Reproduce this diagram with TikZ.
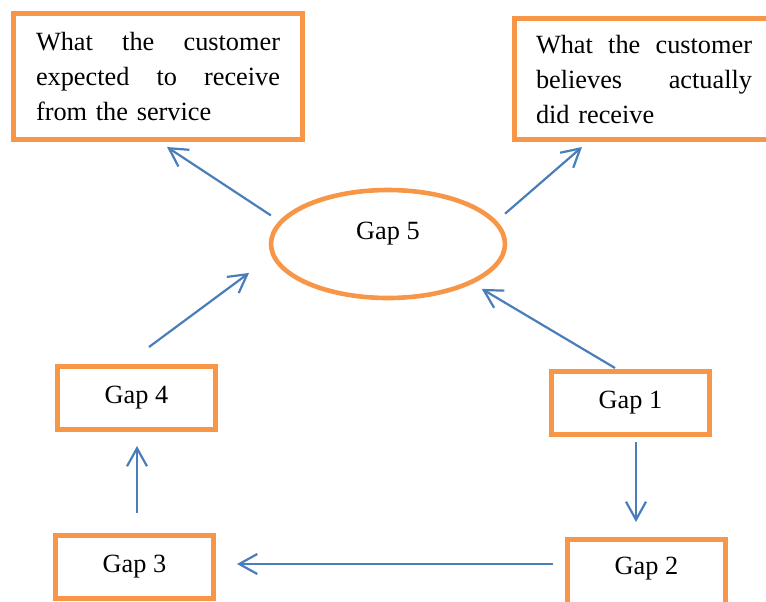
\documentclass[tikz,border=0pt]{standalone}
\usepackage{fontspec}
\setmainfont{Liberation Serif}
\usetikzlibrary{shapes.geometric,arrows.meta}
\definecolor{gaporange}{HTML}{F79646}
\definecolor{gapblue}{HTML}{4A7EBB}

\begin{document}
\begin{tikzpicture}
[x=0.5pt,y=-0.5pt,>={Straight Barb[length=9pt,width=10pt]},font=\fontsize{13.15pt}{17.5pt}\selectfont,
gapbox/.style = {draw=gaporange, line width=2.5pt, minimum width=79pt, minimum height=31.5pt, inner sep=0pt},
oval/.style = {draw=gaporange, ellipse, line width=2.3pt, minimum width=117pt, minimum height=54pt, inner sep=0pt, text depth=12.9pt},
textbox/.style = {draw=gaporange, line width=2.5pt, inner sep=0pt, align=left},
gaplink/.style = {->, draw=gapblue, line width=1.1pt},]
\path[use as bounding box,clip] (0,0) rectangle (766,601);
\node (E) at (158,76.5)[textbox,text width=122pt,minimum width=144.5pt,minimum height=63pt] {What\hfill the\hfill customer\\expected\hfill to\hfill receive\\from the service};
\node (R) at (644,79)[textbox,text width=108pt,minimum width=129.5pt,minimum height=60.5pt] {What\hfill the\hfill customer\\believes\hfill actually\\did receive};
\node (G5) at (388,244)[oval] {Gap 5};
\node (G4) at (136.5,397.5)[gapbox] {Gap 4};
\node (G1) at (630.5,403)[gapbox] {Gap 1};
\node (G3) at (134.5,566.75)[gapbox,minimum height=31.75pt] {Gap 3};
\node (G2) at (646.5,575)[gapbox,minimum height=36pt,text depth=8.9pt] {Gap 2};
\draw[gaplink,shorten <=5pt] (G5.168)--([shift={(9,5)}]E.south);
\draw[gaplink,shorten <=5.5pt] (G5.12)--([shift={(-62,5)}]R.south);
\draw[gaplink,shorten >=14pt] ([shift={(12.5,-16.5)}]G4.north)--(G5.186);
\draw[gaplink,shorten >=5.2pt] ([shift={(-15.5,-1)}]G1.north)--(G5.-25);
\draw[gaplink] ([shift={(5.5,5)}]G1.south)--([shift={(-10.5,-14.5)}]G2.north);
\draw[gaplink] ([shift={(-12,-11)}]G2.west)--([shift={(21,-2.75)}]G3.east);
\draw[gaplink] ([shift={(2.5,-20)}]G3.north)--([shift={(0.5,14.5)}]G4.south);



\end{tikzpicture}
\end{document}
